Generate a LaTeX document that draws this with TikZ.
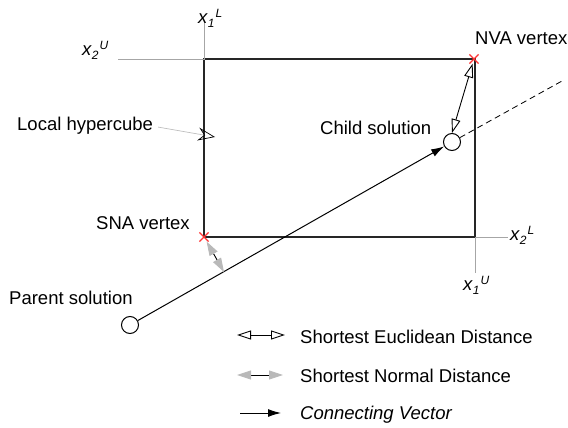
\documentclass[tikz,border=0pt]{standalone}
\usepackage{fontspec}
\setmainfont{Liberation Sans}
\usetikzlibrary{arrows.meta,shapes.misc}
% bound label: x with index and level
\newcommand{\bnd}[2]{\textit{x}\raisebox{-4pt}{\fontsize{12}{12}\selectfont\textit{#1}}\kern1pt\raisebox{6pt}{\fontsize{12}{12}\selectfont\textit{#2}}}

\begin{document}
\begin{tikzpicture}[x=1pt, y=-1pt,
    every node/.style={font=\fontsize{18.5}{22}\selectfont, inner sep=0pt},
    lbl/.style={anchor=base west},
    axis/.style={gray!70, line width=0.8pt},
    vtx/.style={cross out, draw=red!80, line width=1.2pt, minimum size=8pt},
    sol/.style={circle, draw, line width=1pt, minimum size=17pt},
    euc/.style={{Triangle[open, length=14pt, width=9pt]}-{Triangle[open, length=14pt, width=9pt]}, line width=0.9pt},
    nrm/.style={{Triangle[color=gray!55, length=14pt, width=9pt]}-{Triangle[color=gray!55, length=14pt, width=9pt]}, line width=0.9pt},
    vec/.style={-{Latex[length=13pt, width=8pt]}, line width=1pt}]
    \useasboundingbox (0,0) rectangle (568,428);

    % local hypercube
    \coordinate (tl) at (204,59);
    \coordinate (br) at (475,237);
    \draw[line width=2.6pt, black!85] (tl) rectangle (br);

    % bounds
    \coordinate (x1Ltop) at (204,23);
    \coordinate (x2Uend) at (118,59);
    \coordinate (x2Lend) at (508,237);
    \coordinate (x1Ubot) at (475,273);
    \draw[axis] (x1Ltop) -- (tl) -- (x2Uend);
    \draw[axis] (x2Lend) -- (br) -- (x1Ubot);
    \node[lbl] (x1L) at (198,24) {\bnd{1}{L}};
    \node[lbl] (x2U) at (82,56) {\bnd{2}{U}};
    \node[lbl] (x2L) at (510,240) {\bnd{2}{L}};
    \node[lbl] (x1U) at (463,290) {\bnd{1}{U}};

    % vertices
    \node[vtx] (sna) at (204,237) {};
    \node[vtx] (nva) at (474,59) {};
    \node[lbl] (snalbl) at (96,229) {SNA vertex};
    \node[lbl] (nvalbl) at (475,45) {NVA vertex};

    % solutions
    \node[sol] (parent) at (130,325) {};
    \node[sol] (child) at (452,142) {};
    \node[lbl] (parentlbl) at (9,304) {Parent solution};
    \node[lbl] (childlbl) at (320,135) {Child solution};
    \coordinate (vecend) at (562,81);
    \coordinate (snafoot) at (224,272);
    \draw[vec] (parent) -- (child);
    \draw[line width=0.8pt, dash pattern=on 6pt off 4pt] (child) -- (vecend);
    \draw[euc] (child.north) -- (nva);
    \draw[nrm] (sna) -- (snafoot);

    % pointer
    \node[lbl] (hyper) at (17,131) {Local hypercube};
    \coordinate (hypertip) at (215,137);
    \draw[gray!50, line width=0.7pt, shorten <=5pt,
        -{Stealth[open, color=black, length=17pt, width=13pt, inset=6pt]}] (hyper.east) -- (hypertip);

    % legend
    \coordinate (l1a) at (237,335); \coordinate (l1b) at (285,335);
    \coordinate (l2a) at (237,375); \coordinate (l2b) at (283,375);
    \coordinate (l3a) at (240,413); \coordinate (l3b) at (281,413);
    \draw[euc] (l1a) -- (l1b);
    \draw[nrm] (l2a) -- (l2b);
    \draw[vec] (l3a) -- (l3b);
    \node[lbl] (l1) at (300,343) {Shortest Euclidean Distance};
    \node[lbl] (l2) at (300,382) {Shortest Normal Distance};
    \node[lbl] (l3) at (300,419) {\textit{Connecting Vector}};
\end{tikzpicture}
\end{document}
